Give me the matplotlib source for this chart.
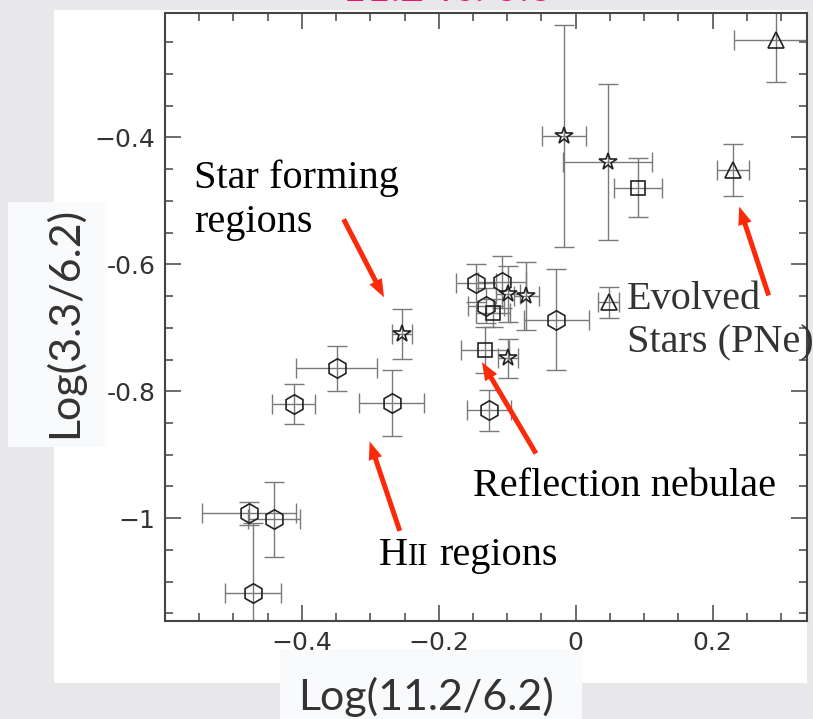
import matplotlib
matplotlib.use("Agg")
import matplotlib.pyplot as plt
from matplotlib.patches import Rectangle
from matplotlib.ticker import MultipleLocator

# band ratios per source class: log(11.2/6.2) vs log(3.3/6.2)
hex_x = [-0.146, -0.107, -0.131, -0.028, -0.127, -0.349, -0.269, -0.412, -0.477, -0.441, -0.472]
hex_y = [-0.630, -0.628, -0.665, -0.687, -0.830, -0.764, -0.819, -0.820, -0.992, -1.002, -1.118]
hex_xerr = [0.029, 0.035, 0.026, 0.048, 0.032, 0.059, 0.047, 0.031, 0.069, 0.038, 0.041]
hex_yerr = [0.030, 0.041, 0.027, 0.079, 0.032, 0.035, 0.052, 0.032, 0.018, 0.059, 0.110]

star_x = [-0.0175, 0.047, -0.254, -0.099, -0.072, -0.099]
star_y = [-0.398, -0.439, -0.710, -0.647, -0.650, -0.748]
star_xerr = [0.032, 0.065, 0.015, 0.018, 0.018, 0.015]
star_yerr = [0.175, 0.123, 0.039, 0.044, 0.053, 0.031]

sq_x = [0.0905, -0.121, -0.133]
sq_y = [-0.479, -0.677, -0.735]
sq_xerr = [0.035, 0.025, 0.035]
sq_yerr = [0.047, 0.022, 0.036]

tri_x = [0.292, 0.230, 0.048]
tri_y = [-0.247, -0.452, -0.660]
tri_xerr = [0.060, 0.023, 0.016]
tri_yerr = [0.066, 0.041, 0.024]

xticks = [-0.4, -0.2, 0, 0.2]
xticklabels = ["\u22120.4", "\u22120.2", "0", "0.2"]
yticks = [-1, -0.8, -0.6, -0.4]
yticklabels = ["\u22121", "-0.8", "-0.6", "\u22120.4"]

W, H = 813, 719
BG = "#e8e8ea"
RED = "#fd2a0a"
SERIF = "Liberation Serif"
SANS = "Lato"

fig = plt.figure(figsize=(W / 100, H / 100), dpi=100, facecolor=BG)


def px_rect(x0, y0, x1, y1, color):
    # rectangle given in pixel coords measured from the top-left corner
    fig.add_artist(Rectangle((x0 / W, 1 - y1 / H), (x1 - x0) / W, (y1 - y0) / H,
                             transform=fig.transFigure, facecolor=color,
                             edgecolor="none", zorder=0))


px_rect(54, 10, 807, 683, "white")
px_rect(8, 202, 105, 447, "#f9fafc")
px_rect(280, 649, 582, 719, "#f9fafc")

ax = fig.add_axes([165 / W, 1 - 621 / H, (807 - 165) / W, (621 - 12.7) / H])
ax.set_facecolor("white")
ax.set_xlim(-0.6, 0.338)
ax.set_ylim(-1.162, -0.2035)

groups = [
    (hex_x, hex_y, hex_xerr, hex_yerr, "h", 14),
    (star_x, star_y, star_xerr, star_yerr, "*", 13),
    (sq_x, sq_y, sq_xerr, sq_yerr, "s", 10.5),
    (tri_x, tri_y, tri_xerr, tri_yerr, "^", 11),
]
for gx, gy, gxe, gye, mk, ms in groups:
    ax.errorbar(gx, gy, xerr=gxe, yerr=gye, fmt="none", ecolor="#7a7a7a",
                elinewidth=1.0, capsize=7, capthick=1.0, zorder=2)
    ax.plot(gx, gy, ls="none", marker=mk, ms=ms, mfc="none", mec="#222222",
            mew=1.2, zorder=3)

for side in ax.spines.values():
    side.set_color("#444444")
    side.set_linewidth(1.5)
ax.set_xticks(xticks)
ax.set_xticklabels(xticklabels)
ax.set_yticks(yticks)
ax.set_yticklabels(yticklabels)
ax.xaxis.set_minor_locator(MultipleLocator(0.05))
ax.yaxis.set_minor_locator(MultipleLocator(0.05))
ax.tick_params(which="both", direction="in", top=True, right=True,
               color="#444444", width=1.1)
ax.tick_params(which="major", length=11.5, labelsize=18, labelcolor="#333333")
ax.tick_params(which="minor", length=5.8)
ax.tick_params(axis="x", pad=7)
ax.tick_params(axis="y", pad=7)

# region labels
txt = dict(fontsize=29, family=SERIF, va="baseline", ha="left", color="black")
ax.text(-0.557, -0.4795, "Star forming", **txt)
ax.text(-0.557, -0.549, "regions", **txt)
ax.text(0.0749, -0.670, "Evolved", **dict(txt, color="#333333"))
ax.text(0.0749, -0.738, "Stars (PNe)", **dict(txt, color="#333333"))
ax.text(-0.150, -0.9646, "Reflection nebulae", **txt)
ax.text(-0.287, -1.073, "H", **txt)
ax.annotate("II", xy=(-0.287, -1.073), xytext=(20.5, 0), textcoords="offset points",
            fontsize=22, family=SERIF, va="baseline", ha="left")
ax.annotate("regions", xy=(-0.287, -1.073), xytext=(43, 0), textcoords="offset points",
            fontsize=29, family=SERIF, va="baseline", ha="left")

arrows = [
    ((-0.280, -0.652), (-0.339, -0.529)),
    ((-0.301, -0.879), (-0.257, -1.020)),
    ((-0.137, -0.754), (-0.058, -0.898)),
    ((0.239, -0.509), (0.282, -0.649)),
]
for head, tail in arrows:
    ax.annotate("", xy=head, xytext=tail, annotation_clip=False,
                arrowprops=dict(arrowstyle="simple,head_length=1.3,head_width=1.0,tail_width=0.36",
                                mutation_scale=10, color=RED, lw=0,
                                shrinkA=0, shrinkB=0))

# axis titles
fig.text(426 / W, 1 - 710 / H, "Log(11.2/6.2)", fontsize=31, family=SANS,
         color="#333333", ha="center", va="baseline")
fig.text(77 / W, 1 - 322 / H, "Log(3.3/6.2)", fontsize=31, family=SANS,
         color="#333333", ha="center", va="baseline", rotation=90,
         rotation_mode="anchor")
fig.text(447 / W, 1 - 1 / H, "11.2 vs. 3.3", fontsize=30, family=SANS,
         color="#ea1478", ha="center", va="baseline")

fig.savefig("out.png", dpi=100, facecolor=BG)
